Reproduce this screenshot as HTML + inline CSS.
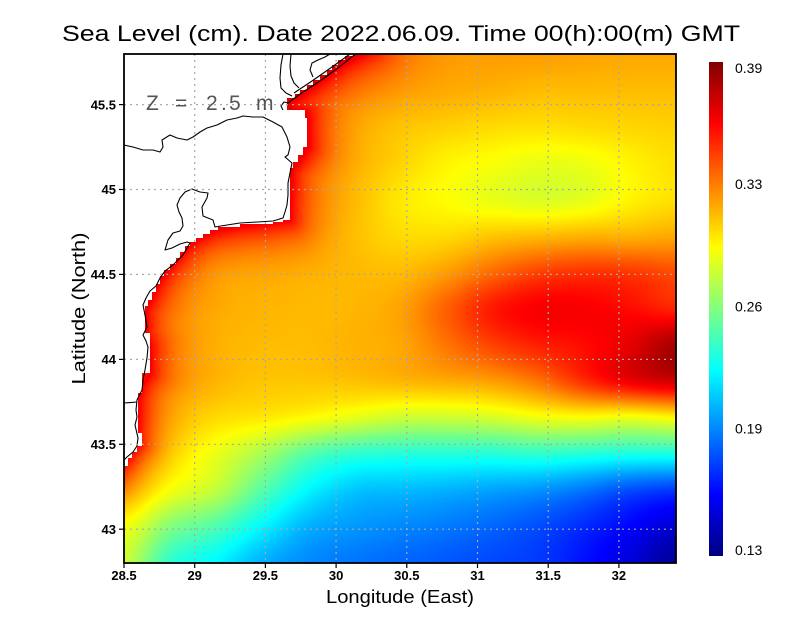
<!DOCTYPE html>
<html>
<head>
<meta charset="utf-8">
<style>
html,body{margin:0;padding:0;background:#fff;}
#wrap{position:relative;width:800px;height:618px;overflow:hidden;background:#fff;}
#f{position:absolute;left:124px;top:54px;width:552px;height:509px;}
#ov{position:absolute;left:0;top:0;}
</style>
</head>
<body>
<div id="wrap">
<canvas id="f" width="552" height="509"></canvas>
<svg id="ov" width="800" height="618" viewBox="0 0 800 618" xmlns="http://www.w3.org/2000/svg">
<defs>
<linearGradient id="cb" x1="0" y1="1" x2="0" y2="0">
<stop offset="0" stop-color="#000080"/>
<stop offset="0.125" stop-color="#0000ff"/>
<stop offset="0.375" stop-color="#00ffff"/>
<stop offset="0.5" stop-color="#80ff80"/>
<stop offset="0.625" stop-color="#ffff00"/>
<stop offset="0.875" stop-color="#ff0000"/>
<stop offset="1" stop-color="#800000"/>
</linearGradient>
</defs>
<!-- land mask -->
<polygon fill="#fff" points="124,54 353,54 353,56 345,56 345,60 338,60 338,65 332,65 332,70 327,70 327,75 320,75 320,80 313,80 313,85 307,85 307,90 300,90 300,94 295,94 295,98 287,98 287,110 305,110 305,118 307,118 307,147 303,147 303,155 298,155 298,162 293,162 293,168 290,168 290,220 283,220 283,222 273,222 273,224 240,224 240,227 218,227 218,230 210,230 210,234 203,234 203,238 196,238 196,242 190,242 190,246 185,246 185,252 180,252 180,258 176,258 176,264 170,264 170,270 164,270 164,276 160,276 160,284 156,284 156,292 152,292 152,300 148,300 148,306 145,306 145,333 150,333 150,373 142,373 142,393 138,393 138,433 142,433 142,446 137,446 137,452 132,452 132,458 128,458 128,466 124,466"/>
<!-- coastlines -->
<g fill="none" stroke="#000" stroke-width="1.1" stroke-linejoin="round">
<polyline points="283,54 281,65 280,78 281,88 286,93 292,96"/>
<polyline points="291,54 290,66 291,76 294,83 299,88"/>
<polyline points="283,110 281,106 284,102 288,103 300,94 320,81 338,68 353,56 356,54"/>
<polyline points="294,93 312,81 332,67 350,54"/>
<polyline points="313,77 310,70 312,63 318,60 325,57 330,54"/>
<polyline points="124,145 133,147 143,150 153,150 160,152 163,147 162,140 170,135 177,138 187,140 193,137 200,132 207,128 217,125 227,120 237,118 243,116 253,117 263,117 273,122 282,127 287,137 290,147 288,155 285,157 292,163 290,173 288,183 288,195 287,205 285,212 283,218 273,221 257,222 240,223 227,225 215,227 213,220 203,216 202,207 207,198 208,193 200,192 192,189 185,192 180,198 177,205 179,212 182,218 183,226 180,231 173,233 168,240 165,250 172,248 180,244 187,242 190,243 183,255 173,265 165,271 160,278 156,286 150,291 146,298 143,305 145,315 147,327 143,335 146,341 148,347 147,358 145,370 143,380 142,390 137,400 136,410 137,417 135,425 138,438 137,446 133,452 127,457 124,460"/>
<polyline points="124,403 137,402"/>
</g>
<!-- grid -->
<g stroke="#a8a8a8" stroke-width="1.2" stroke-dasharray="2 4" fill="none">
<line x1="194.7" y1="54" x2="194.7" y2="563"/>
<line x1="265.4" y1="54" x2="265.4" y2="563"/>
<line x1="336.1" y1="54" x2="336.1" y2="563"/>
<line x1="406.8" y1="54" x2="406.8" y2="563"/>
<line x1="477.5" y1="54" x2="477.5" y2="563"/>
<line x1="548.2" y1="54" x2="548.2" y2="563"/>
<line x1="618.9" y1="54" x2="618.9" y2="563"/>
<line x1="124" y1="104.6" x2="676" y2="104.6"/>
<line x1="124" y1="189.5" x2="676" y2="189.5"/>
<line x1="124" y1="274.4" x2="676" y2="274.4"/>
<line x1="124" y1="359.4" x2="676" y2="359.4"/>
<line x1="124" y1="444.3" x2="676" y2="444.3"/>
<line x1="124" y1="529.2" x2="676" y2="529.2"/>
</g>
<!-- frame -->
<rect x="124" y="54" width="552" height="509" fill="none" stroke="#000" stroke-width="1.8"/>
<!-- ticks -->
<g stroke="#000" stroke-width="1.2">
<line x1="124" y1="563" x2="124" y2="568"/>
<line x1="194.7" y1="563" x2="194.7" y2="568"/>
<line x1="265.4" y1="563" x2="265.4" y2="568"/>
<line x1="336.1" y1="563" x2="336.1" y2="568"/>
<line x1="406.8" y1="563" x2="406.8" y2="568"/>
<line x1="477.5" y1="563" x2="477.5" y2="568"/>
<line x1="548.2" y1="563" x2="548.2" y2="568"/>
<line x1="618.9" y1="563" x2="618.9" y2="568"/>
<line x1="119" y1="104.6" x2="124" y2="104.6"/>
<line x1="119" y1="189.5" x2="124" y2="189.5"/>
<line x1="119" y1="274.4" x2="124" y2="274.4"/>
<line x1="119" y1="359.4" x2="124" y2="359.4"/>
<line x1="119" y1="444.3" x2="124" y2="444.3"/>
<line x1="119" y1="529.2" x2="124" y2="529.2"/>
</g>
<g font-family="Liberation Sans, Arial, sans-serif" font-size="13" font-weight="bold" fill="#000" text-anchor="middle">
<text x="124" y="580">28.5</text>
<text x="194.7" y="580">29</text>
<text x="265.4" y="580">29.5</text>
<text x="336.1" y="580">30</text>
<text x="406.8" y="580">30.5</text>
<text x="477.5" y="580">31</text>
<text x="548.2" y="580">31.5</text>
<text x="618.9" y="580">32</text>
</g>
<g font-family="Liberation Sans, Arial, sans-serif" font-size="13" font-weight="bold" fill="#000" text-anchor="end">
<text x="116" y="109.3">45.5</text>
<text x="116" y="194.2">45</text>
<text x="116" y="279.1">44.5</text>
<text x="116" y="364.1">44</text>
<text x="116" y="449">43.5</text>
<text x="116" y="533.9">43</text>
</g>
<!-- title & labels -->
<text x="62" y="41" font-family="Liberation Sans, Arial, sans-serif" font-size="22" fill="#000" textLength="678" lengthAdjust="spacingAndGlyphs">Sea Level (cm). Date 2022.06.09. Time 00(h):00(m) GMT</text>
<g font-family="Liberation Sans, Arial, sans-serif" font-size="21" fill="#555">
<text x="146" y="110">Z</text>
<text x="175" y="110">=</text>
<text x="206" y="110">2</text>
<text x="221" y="110">.</text>
<text x="229" y="110">5</text>
<text x="256" y="110">m</text>
</g>
<text x="400" y="603" font-family="Liberation Sans, Arial, sans-serif" font-size="18" fill="#000" text-anchor="middle" textLength="148" lengthAdjust="spacingAndGlyphs">Longitude (East)</text>
<text transform="translate(85,308.5) rotate(-90)" x="0" y="0" font-family="Liberation Sans, Arial, sans-serif" font-size="18" fill="#000" text-anchor="middle" textLength="152" lengthAdjust="spacingAndGlyphs">Latitude (North)</text>
<!-- colorbar -->
<rect x="709" y="62" width="14" height="494" fill="url(#cb)"/>
<g font-family="Liberation Sans, Arial, sans-serif" font-size="14" fill="#000">
<text x="735" y="73">0.39</text>
<text x="735" y="189">0.33</text>
<text x="735" y="311.5">0.26</text>
<text x="735" y="433.5">0.19</text>
<text x="735" y="555">0.13</text>
</g>
</svg>
</div>
<script>
(function(){
var G=[
[0.75,0.75,0.75,0.75,0.75,0.74,0.73,0.72,0.72,0.72,0.715,0.71,0.71],
[0.75,0.75,0.75,0.75,0.74,0.725,0.71,0.705,0.70,0.69,0.69,0.69,0.69],
[0.74,0.74,0.74,0.74,0.73,0.70,0.68,0.67,0.66,0.655,0.66,0.665,0.67],
[0.73,0.73,0.73,0.73,0.72,0.69,0.665,0.635,0.62,0.605,0.61,0.635,0.655],
[0.72,0.72,0.72,0.72,0.71,0.685,0.645,0.625,0.605,0.59,0.60,0.635,0.655],
[0.72,0.72,0.72,0.71,0.70,0.68,0.66,0.66,0.68,0.69,0.70,0.70,0.71],
[0.72,0.71,0.70,0.695,0.69,0.69,0.69,0.72,0.77,0.81,0.825,0.82,0.80],
[0.72,0.71,0.70,0.695,0.69,0.695,0.715,0.78,0.85,0.88,0.88,0.865,0.84],
[0.72,0.705,0.695,0.69,0.69,0.70,0.71,0.76,0.81,0.845,0.865,0.90,0.96],
[0.72,0.70,0.69,0.68,0.68,0.685,0.695,0.705,0.72,0.76,0.83,0.89,0.92],
[0.72,0.68,0.655,0.645,0.625,0.60,0.575,0.575,0.585,0.61,0.62,0.61,0.63],
[0.70,0.64,0.60,0.54,0.46,0.42,0.41,0.41,0.41,0.42,0.41,0.40,0.40],
[0.66,0.60,0.56,0.46,0.37,0.32,0.31,0.30,0.285,0.27,0.24,0.20,0.18],
[0.60,0.50,0.45,0.37,0.30,0.275,0.26,0.245,0.225,0.20,0.165,0.125,0.08],
[0.57,0.42,0.37,0.30,0.26,0.24,0.225,0.21,0.195,0.18,0.14,0.09,0.02]
];
var C=[370,46,355,54,340,62,320,77,300,92,288,100,290,110,305,115,307,147,298,160,290,170,290,220,270,223,240,225,215,229,200,236,188,245,178,257,167,270,158,283,150,300,145,310,145,333,150,345,150,373,142,385,138,400,138,433,140,445,132,455,124,466,116,476];
var c=document.getElementById('f');var ctx=c.getContext('2d');
var W=552,H=509;var img=ctx.createImageData(W,H);var d=img.data;
function cr(p0,p1,p2,p3,t){return p1+0.5*t*(p2-p0+t*(2*p0-5*p1+4*p2-p3+t*(3*(p1-p2)+p3-p0)));}
function g(j,i){if(j<0)j=0;if(j>14)j=14;if(i<0)i=0;if(i>12)i=12;return G[j][i];}
function cl(a){return a<0?0:(a>1?1:a);}
var n=C.length/2-1;
function cd(px,py){
 var best=1e12;
 for(var s=0;s<n;s++){
  var ax=C[2*s],ay=C[2*s+1],bx=C[2*s+2],by=C[2*s+3];
  var vx=bx-ax,vy=by-ay,wx=px-ax,wy=py-ay;
  var L=vx*vx+vy*vy;var t=L>0?(wx*vx+wy*vy)/L:0;if(t<0)t=0;if(t>1)t=1;
  var dx=wx-t*vx,dy=wy-t*vy;var q=dx*dx+dy*dy;if(q<best)best=q;
 }
 return Math.sqrt(best);
}
var dy=509/14,dx=46;
for(var y=0;y<H;y++){
 var v=(y+0.5)/dy;var j=Math.floor(v);var fv=v-j;
 for(var x=0;x<W;x++){
  var u=(x+0.5)/dx;var i=Math.floor(u);var fu=u-i;
  var r0=cr(g(j-1,i-1),g(j-1,i),g(j-1,i+1),g(j-1,i+2),fu);
  var r1=cr(g(j,i-1),g(j,i),g(j,i+1),g(j,i+2),fu);
  var r2=cr(g(j+1,i-1),g(j+1,i),g(j+1,i+1),g(j+1,i+2),fu);
  var r3=cr(g(j+2,i-1),g(j+2,i),g(j+2,i+1),g(j+2,i+2),fu);
  var t=cr(r0,r1,r2,r3,fv);
  var px=x+124,py=y+54;
  var dd=cd(px,py);t+=0.17*Math.exp(-dd/22);
  t=cl(t);
  var R=cl(Math.min(4*t-1.5,-4*t+4.5)),Gc=cl(Math.min(4*t-0.5,-4*t+3.5)),B=cl(Math.min(4*t+0.5,-4*t+2.5));
  var k=(y*W+x)*4;d[k]=Math.round(R*255);d[k+1]=Math.round(Gc*255);d[k+2]=Math.round(B*255);d[k+3]=255;
 }
}
ctx.putImageData(img,0,0);
})();
</script>
</body>
</html>
